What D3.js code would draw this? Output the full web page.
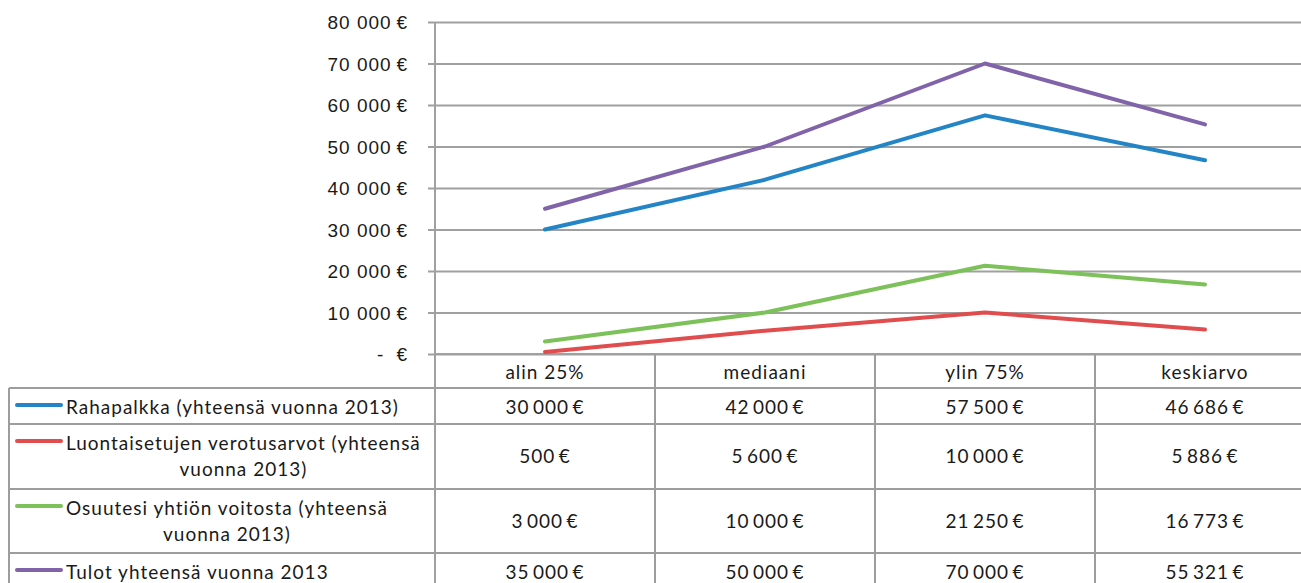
<!DOCTYPE html>
<html>
<head>
<meta charset="utf-8">
<script src="https://cdn.jsdelivr.net/npm/d3@7"></script>
<style>
  html, body { margin: 0; padding: 0; background: #fff; overflow: hidden; }
  svg { display: block; font-family: Lato, "Open Sans", sans-serif; }
  svg text { letter-spacing: 1px; }
</style>
</head>
<body>
<svg id="chart" width="1301" height="583"></svg>
<script>
// Categories along the x axis (also the table header)
const categories = ["alin 25%", "mediaani", "ylin 75%", "keskiarvo"];

// Series values (€)
const rahapalkka = [30000, 42000, 57500, 46686];
const luontaisedut = [500, 5600, 10000, 5886];
const osuusVoitosta = [3000, 10000, 21250, 16773];
const tulotYhteensa = [35000, 50000, 70000, 55321];

// Series legend labels, one entry per wrapped line
const seriesLabels = [
  ["Rahapalkka (yhteensä vuonna 2013)"],
  ["Luontaisetujen verotusarvot (yhteensä", "vuonna 2013)"],
  ["Osuutesi yhtiön voitosta (yhteensä", "vuonna 2013)"],
  ["Tulot yhteensä vuonna 2013"]
];
const seriesColors = ["#2385c6", "#e04d4f", "#7dc15a", "#8063a8"];
const seriesValues = [rahapalkka, luontaisedut, osuusVoitosta, tulotYhteensa];

// Y axis ticks
const yTicks = [0, 10000, 20000, 30000, 40000, 50000, 60000, 70000, 80000];

const svg = d3.select("#chart");
const W = 1301;
const FS = 19;

const plotLeft = 435, plotRight = 1315, plotTop = 22, plotBottom = 354;
const x = d3.scaleBand().domain(categories).range([plotLeft, plotRight]);
const y = d3.scaleLinear().domain([0, 80000]).range([plotBottom, plotTop]);

const axisFmt = d3.formatLocale({ decimal: ",", thousands: " ", grouping: [3], currency: ["", ""] }).format(",.0f");
const cellFmt = d3.formatLocale({ decimal: ",", thousands: "\u2009", grouping: [3], currency: ["", ""] }).format(",.0f");
const axisEuro = v => axisFmt(v) + "\u2009€";
const cellEuro = v => cellFmt(v) + "\u2009€";

const gridColor = "#a0a0a0";
const tableColor = "#9d9d9d";
const textColor = "#1a1a1a";

// Y axis with gridlines
const yAxis = d3.axisLeft(y)
  .tickValues(yTicks)
  .tickSize(-(plotRight - plotLeft))
  .tickSizeOuter(0)
  .tickPadding(20)
  .tickFormat(d => d === 0 ? "" : axisEuro(d));

const gy = svg.append("g").attr("transform", `translate(${plotLeft},0)`).call(yAxis);
gy.select(".domain").remove();
gy.selectAll(".tick line").attr("stroke", gridColor).attr("stroke-width", 2).attr("x1", -7);
gy.selectAll(".tick text")
  .attr("fill", textColor)
  .attr("font-size", FS)
  .attr("font-family", null)
  .attr("x", -27)
  .attr("dy", "0.35em");

// zero label "-   €"
const zeroTick = gy.selectAll(".tick").filter(d => d === 0);
zeroTick.append("text").attr("x", -58).attr("dy", "0.35em").attr("fill", textColor)
  .attr("font-size", FS).attr("text-anchor", "start").text("-");
zeroTick.append("text").attr("x", -27).attr("dy", "0.35em").attr("fill", textColor)
  .attr("font-size", FS).attr("text-anchor", "end").text("€");

// Table geometry
const rowBounds = [354, 388, 424, 489, 553, 620];
const tableLeft = 9;

const table = svg.append("g");

// horizontal lines
table.append("line").attr("x1", plotLeft).attr("x2", W).attr("y1", rowBounds[0]).attr("y2", rowBounds[0])
  .attr("stroke", gridColor).attr("stroke-width", 2);
rowBounds.slice(1, 5).forEach(b => {
  table.append("line").attr("x1", tableLeft).attr("x2", W).attr("y1", b).attr("y2", b)
    .attr("stroke", tableColor).attr("stroke-width", 2);
});
// left border
table.append("line").attr("x1", tableLeft).attr("x2", tableLeft).attr("y1", rowBounds[1]).attr("y2", 583)
  .attr("stroke", tableColor).attr("stroke-width", 2);
// column separators
categories.slice(1).forEach(c => {
  table.append("line").attr("x1", x(c)).attr("x2", x(c)).attr("y1", rowBounds[0]).attr("y2", 583)
    .attr("stroke", tableColor).attr("stroke-width", 2);
});
// y axis line (runs through the table)
svg.append("line").attr("x1", plotLeft).attr("x2", plotLeft).attr("y1", plotTop).attr("y2", 583)
  .attr("stroke", gridColor).attr("stroke-width", 2);

// header texts
table.selectAll(".hdr").data(categories).enter().append("text")
  .attr("x", d => x(d) + x.bandwidth() / 2)
  .attr("y", (rowBounds[0] + rowBounds[1]) / 2 + 1)
  .attr("dy", "0.35em")
  .attr("text-anchor", "middle")
  .attr("font-size", FS)
  .attr("fill", textColor)
  .text(d => d);

// rows: legend key, label, values
seriesValues.forEach((vals, r) => {
  const top = rowBounds[r + 1], bot = rowBounds[r + 2];
  const lines = seriesLabels[r];
  const textY = top + 19;
  const lineGap = 26;

  table.append("line")
    .attr("x1", 17).attr("x2", 61).attr("y1", top + 17).attr("y2", top + 17)
    .attr("stroke", seriesColors[r]).attr("stroke-width", 4).attr("stroke-linecap", "round");

  const first = table.append("text")
    .attr("x", 66).attr("y", textY).attr("dy", "0.35em")
    .attr("font-size", FS).attr("fill", textColor)
    .text(lines[0]);
  const w0 = first.node().getComputedTextLength();
  lines.slice(1).forEach((ln, k) => {
    table.append("text")
      .attr("x", 66 + w0 / 2).attr("y", textY + lineGap * (k + 1)).attr("dy", "0.35em")
      .attr("text-anchor", "middle")
      .attr("font-size", FS).attr("fill", textColor)
      .text(ln);
  });

  const cy = lines.length > 1 ? (top + bot) / 2 : textY;
  table.selectAll(".v" + r).data(vals).enter().append("text")
    .attr("x", (d, i) => x(categories[i]) + x.bandwidth() / 2)
    .attr("y", cy)
    .attr("dy", "0.35em")
    .attr("text-anchor", "middle")
    .attr("font-size", FS)
    .attr("fill", textColor)
    .text(d => cellEuro(d));
});

// Series lines
const line = d3.line()
  .x((d, i) => x(categories[i]) + x.bandwidth() / 2)
  .y(d => y(d));

svg.append("g").selectAll("path").data(seriesValues).enter().append("path")
  .attr("d", d => line(d))
  .attr("fill", "none")
  .attr("stroke", (d, i) => seriesColors[i])
  .attr("stroke-width", 4)
  .attr("stroke-linecap", "round")
  .attr("stroke-linejoin", "round");
</script>
</body>
</html>
